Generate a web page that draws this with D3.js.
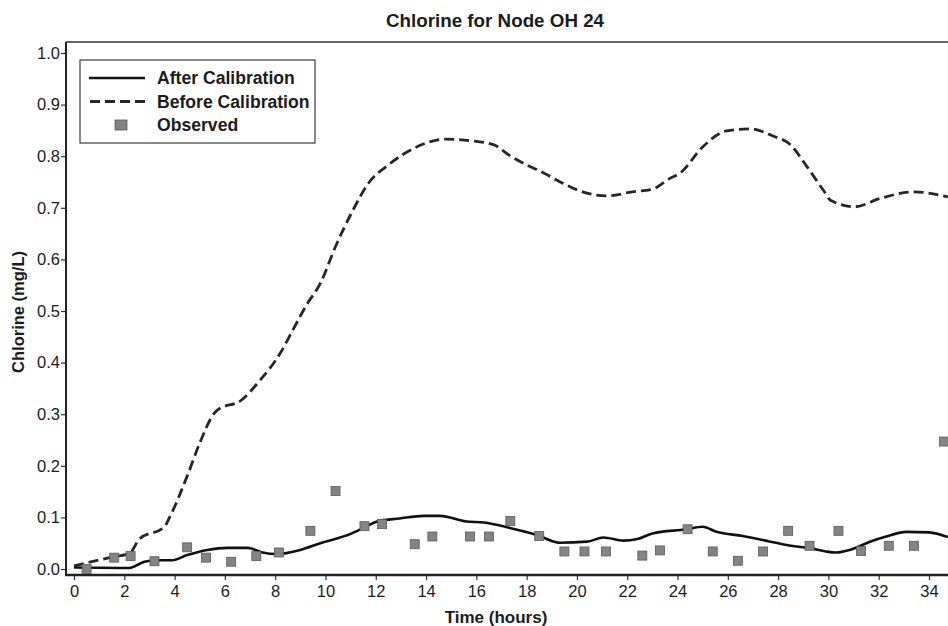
<!DOCTYPE html>
<html>
<head>
<meta charset="utf-8">
<script src="https://cdn.jsdelivr.net/npm/d3@7"></script>
<style>
  html, body { margin: 0; padding: 0; background: #fff; }
  svg { display: block; }
  text { font-family: "Liberation Sans", Arial, Helvetica, sans-serif; fill: #1c1c1c; }
</style>
</head>
<body>
<svg id="chart" width="948" height="626"></svg>
<script>
// ---- Data ----
const chartTitle = "Chlorine for Node OH 24";
const xLabel = "Time (hours)";
const yLabel = "Chlorine (mg/L)";

const xTicks = [0, 2, 4, 6, 8, 10, 12, 14, 16, 18, 20, 22, 24, 26, 28, 30, 32, 34];
const yTicks = [0.0, 0.1, 0.2, 0.3, 0.4, 0.5, 0.6, 0.7, 0.8, 0.9, 1.0];

const beforeTime  = [0.0, 1.6, 2.2, 2.6, 3.6, 3.8, 4.5, 5.0, 5.55, 5.7, 6.65, 7.4, 8.2, 8.7, 9.25, 9.8, 10.4, 11.1, 11.7, 12.5, 13.5, 14.8, 15.75, 16.7, 17.3, 18.0, 18.5, 19.3, 20.1, 21.2, 22.2, 23.0, 23.7, 24.1, 25.0, 25.95, 26.9, 27.8, 28.5, 29.1, 29.8, 30.1, 31.05, 32.05, 33.4, 34.75];
const beforeValue = [0.006, 0.024, 0.030, 0.058, 0.082, 0.100, 0.180, 0.244, 0.300, 0.308, 0.327, 0.366, 0.418, 0.463, 0.512, 0.554, 0.625, 0.696, 0.747, 0.783, 0.815, 0.833, 0.830, 0.822, 0.802, 0.783, 0.772, 0.751, 0.733, 0.723, 0.731, 0.736, 0.757, 0.767, 0.818, 0.849, 0.853, 0.839, 0.822, 0.783, 0.734, 0.714, 0.702, 0.718, 0.731, 0.721];

const afterTime  = [0.0, 2.2, 2.8, 3.2, 3.9, 4.5, 5.3, 6.1, 6.9, 7.5, 8.05, 9.0, 9.8, 11.0, 11.6, 12.05, 12.95, 13.9, 14.55, 15.6, 16.3, 17.3, 18.4, 19.3, 20.4, 21.05, 21.85, 22.4, 23.0, 24.35, 25.0, 25.55, 26.6, 27.7, 28.5, 29.3, 29.9, 30.3, 30.85, 31.65, 32.3, 33.1, 34.0, 34.75];
const afterValue = [0.003, 0.002, 0.014, 0.017, 0.017, 0.027, 0.037, 0.041, 0.041, 0.032, 0.029, 0.037, 0.050, 0.068, 0.082, 0.092, 0.098, 0.103, 0.103, 0.092, 0.090, 0.080, 0.066, 0.051, 0.053, 0.061, 0.055, 0.058, 0.069, 0.077, 0.082, 0.072, 0.064, 0.053, 0.045, 0.040, 0.034, 0.032, 0.037, 0.053, 0.063, 0.072, 0.071, 0.062];

const observedTime  = [0.5, 1.6, 2.25, 3.2, 4.5, 5.25, 6.25, 7.25, 8.15, 9.4, 10.4, 11.55, 12.25, 13.55, 14.25, 15.75, 16.5, 17.35, 18.5, 19.5, 20.3, 21.15, 22.6, 23.3, 24.4, 25.4, 26.4, 27.4, 28.4, 29.25, 30.4, 31.3, 32.4, 33.4, 34.6];
const observedValue = [0.000, 0.022, 0.025, 0.015, 0.042, 0.022, 0.014, 0.025, 0.032, 0.074, 0.151, 0.083, 0.087, 0.048, 0.063, 0.063, 0.063, 0.093, 0.064, 0.034, 0.034, 0.034, 0.026, 0.036, 0.077, 0.034, 0.016, 0.034, 0.074, 0.045, 0.074, 0.035, 0.045, 0.045, 0.247];

const legendItems = ["After Calibration", "Before Calibration", "Observed"];

// ---- Layout ----
const svg = d3.select("#chart");
const frame = { left: 66, top: 42, right: 960, bottom: 575 };

const x = d3.scaleLinear().domain([0, 34]).range([74, 929]);
const y = d3.scaleLinear().domain([0, 1]).range([569, 53]);

svg.append("defs").append("clipPath").attr("id", "plotClip")
  .append("rect")
  .attr("x", frame.left).attr("y", frame.top)
  .attr("width", frame.right - frame.left).attr("height", frame.bottom - frame.top);

// Title
svg.append("text")
  .attr("x", 495).attr("y", 27)
  .attr("text-anchor", "middle")
  .style("font-size", "18.8px").style("font-weight", "bold")
  .text(chartTitle);

// Top frame line
svg.append("line")
  .attr("x1", frame.left).attr("x2", frame.right)
  .attr("y1", frame.top).attr("y2", frame.top)
  .attr("stroke", "#333").attr("stroke-width", 1.4);

// Y axis
const yAxis = d3.axisLeft(y).tickValues(yTicks).tickFormat(d3.format(".1f")).tickSize(5).tickSizeOuter(0);
const gy = svg.append("g").attr("transform", `translate(${frame.left},0)`).call(yAxis);
gy.select(".domain").remove();
gy.selectAll(".tick line").attr("stroke", "#333").attr("stroke-width", 1.2);
gy.selectAll(".tick text")
  .attr("x", -6)
  .style("font-size", "16.5px")
  .style("font-family", "'Liberation Sans', Arial, sans-serif")
  .attr("fill", "#1c1c1c");
svg.append("line")
  .attr("x1", frame.left).attr("x2", frame.left)
  .attr("y1", frame.top).attr("y2", frame.bottom)
  .attr("stroke", "#222").attr("stroke-width", 2);

// X axis
const xAxis = d3.axisBottom(x).tickValues(xTicks).tickFormat(d3.format("d")).tickSize(5).tickSizeOuter(0);
const gx = svg.append("g").attr("transform", `translate(0,${frame.bottom})`).call(xAxis);
gx.select(".domain").remove();
gx.selectAll(".tick line").attr("stroke", "#333").attr("stroke-width", 1.2);
gx.selectAll(".tick text")
  .attr("y", 10)
  .style("font-size", "16.5px")
  .style("font-family", "'Liberation Sans', Arial, sans-serif")
  .attr("fill", "#1c1c1c");
svg.append("line")
  .attr("x1", frame.left - 1).attr("x2", frame.right)
  .attr("y1", frame.bottom).attr("y2", frame.bottom)
  .attr("stroke", "#222").attr("stroke-width", 2.5);

// Axis titles
svg.append("text")
  .attr("x", 496).attr("y", 623)
  .attr("text-anchor", "middle")
  .style("font-size", "17px").style("font-weight", "bold")
  .text(xLabel);
svg.append("text")
  .attr("transform", "translate(24,312) rotate(-90)")
  .attr("text-anchor", "middle")
  .style("font-size", "16.5px").style("font-weight", "bold")
  .text(yLabel);

// Series
const plot = svg.append("g").attr("clip-path", "url(#plotClip)");

const line = d3.line()
  .x(d => x(d[0])).y(d => y(d[1]))
  .curve(d3.curveMonotoneX);

const beforeData = beforeTime.map((t, i) => [t, beforeValue[i]]);
const afterData = afterTime.map((t, i) => [t, afterValue[i]]);
const observedData = observedTime.map((t, i) => [t, observedValue[i]]);

plot.append("path")
  .datum(beforeData)
  .attr("d", line)
  .attr("fill", "none")
  .attr("stroke", "#262626")
  .attr("stroke-width", 2.8)
  .attr("stroke-dasharray", "10,5");

plot.append("path")
  .datum(afterData)
  .attr("d", line)
  .attr("fill", "none")
  .attr("stroke", "#111")
  .attr("stroke-width", 2.6);

const sq = 9;
plot.selectAll("rect.obs")
  .data(observedData)
  .enter().append("rect")
  .attr("class", "obs")
  .attr("x", d => x(d[0]) - sq / 2)
  .attr("y", d => y(d[1]) - sq / 2)
  .attr("width", sq).attr("height", sq)
  .attr("fill", "#848484")
  .attr("stroke", "#5a5a5a")
  .attr("stroke-width", 0.8);

// Legend
const lg = svg.append("g");
lg.append("rect")
  .attr("x", 80).attr("y", 60).attr("width", 235).attr("height", 83)
  .attr("fill", "#fff").attr("stroke", "#3a3a3a").attr("stroke-width", 1.2);

const rowY = [78, 101.5, 125];
legendItems.forEach((name, i) => {
  const yy = rowY[i];
  if (i === 0) {
    lg.append("line").attr("x1", 89).attr("x2", 145).attr("y1", yy).attr("y2", yy)
      .attr("stroke", "#111").attr("stroke-width", 2.6);
  } else if (i === 1) {
    lg.append("line").attr("x1", 90).attr("x2", 145).attr("y1", yy).attr("y2", yy)
      .attr("stroke", "#262626").attr("stroke-width", 2.8).attr("stroke-dasharray", "10,5");
  } else {
    lg.append("rect").attr("x", 115).attr("y", yy - 5).attr("width", 12).attr("height", 10)
      .attr("fill", "#848484").attr("stroke", "#5a5a5a").attr("stroke-width", 0.8);
  }
  lg.append("text")
    .attr("x", 157).attr("y", yy + 6)
    .style("font-size", "17.6px").style("font-weight", "bold")
    .text(name);
});
</script>
</body>
</html>
